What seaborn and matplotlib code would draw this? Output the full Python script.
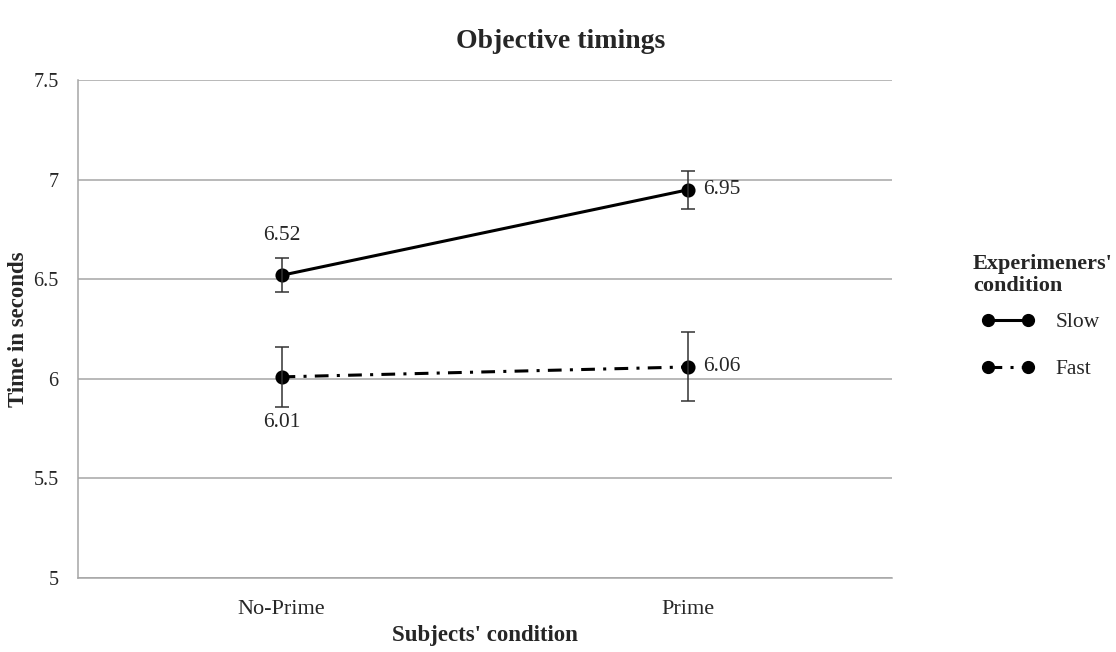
import matplotlib
matplotlib.use("Agg")
import matplotlib.pyplot as plt
from matplotlib.lines import Line2D
import pandas as pd
import seaborn as sns

subjects = ["No-Prime", "Prime"]
slow_means = [6.52, 6.95]
fast_means = [6.01, 6.06]
slow_err = [0.085, 0.095]
fast_err = [0.15, 0.173]
groups = ["Slow", "Fast"]

df = pd.DataFrame({
    "subject": subjects * 2,
    "time": slow_means + fast_means,
    "err": slow_err + fast_err,
    "group": [groups[0]] * 2 + [groups[1]] * 2,
})

sns.set_style("white")
plt.rcParams["font.family"] = ["Liberation Serif", "DejaVu Serif"]

dashdot = (0, (4.5, 2.7, 1, 2.7))
fig = plt.figure(figsize=(11.16, 6.52), dpi=100)
ax = fig.add_axes([0.07, 0.1135, 0.729, 0.7635])

sns.pointplot(data=df, x="subject", y="time", hue="group", order=subjects,
              hue_order=groups, palette=["black", "black"], markers="o",
              linestyles=["-", dashdot], errorbar=None, ax=ax, legend=False,
              linewidth=2.2, markersize=8.5)

for g in groups:
    sub = df[df["group"] == g]
    ax.errorbar(range(len(subjects)), sub["time"], yerr=sub["err"], fmt="none",
                ecolor="#333333", elinewidth=1.1, capsize=5, capthick=1.1, zorder=5)

ax.set_xlim(-0.5, 1.5)
ax.set_ylim(5, 7.5)
ax.set_yticks([5, 5.5, 6, 6.5, 7, 7.5])
ax.set_yticklabels(["5", "5.5", "6", "6.5", "7", "7.5"])
ax.yaxis.grid(True, color="#a6a6a6", linewidth=1.1)
ax.set_axisbelow(True)
ax.set_xticks([-0.5, 0.5, 1.5], minor=True)
ax.tick_params(axis="x", which="major", length=0, pad=16, labelsize=16)
ax.tick_params(axis="x", which="minor", length=5, color="#a6a6a6", width=1.1, direction="out")
ax.tick_params(axis="y", length=5, color="#a6a6a6", width=1.1, direction="out", labelsize=14.5, pad=9)
for side in ["top", "right"]:
    ax.spines[side].set_visible(False)
for side in ["left", "bottom"]:
    ax.spines[side].set_color("#a6a6a6")
    ax.spines[side].set_linewidth(1.1)

ax.set_xlabel("Subjects' condition", fontsize=16.5, fontweight="bold", labelpad=4)
ax.set_ylabel("Time in seconds", fontsize=16.5, fontweight="bold", labelpad=3)

ax.annotate(f"{slow_means[0]:.2f}", (0, slow_means[0]), xytext=(0, 22),
            textcoords="offset points", ha="center", va="bottom", fontsize=15.5)
ax.annotate(f"{fast_means[0]:.2f}", (0, fast_means[0]), xytext=(0, -26),
            textcoords="offset points", ha="center", va="top", fontsize=15.5)
ax.annotate(f"{slow_means[1]:.2f}", (1, slow_means[1]), xytext=(11, 0),
            textcoords="offset points", ha="left", va="center", fontsize=15.5)
ax.annotate(f"{fast_means[1]:.2f}", (1, fast_means[1]), xytext=(11, 0),
            textcoords="offset points", ha="left", va="center", fontsize=15.5)

fig.text(0.502, 0.937, "Objective timings", ha="center", va="center",
         fontsize=20, fontweight="bold")

# legend title drawn separately so the entries can sit indented under it
fig.text(973 / 1116, 1 - 254 / 652, "Experimeners'\ncondition", ha="left", va="top",
         fontsize=16, fontweight="bold", linespacing=1.15)

handles = [Line2D([], [], color="black", marker="o", markersize=8.5, linewidth=2.2, linestyle="-"),
           Line2D([], [], color="black", marker="o", markersize=8.5, linewidth=2.2, linestyle=dashdot)]
leg = fig.legend(handles, groups, numpoints=2, loc="upper left",
                 bbox_to_anchor=(982 / 1116, 1 - 312 / 652), frameon=False,
                 fontsize=15.5, handlelength=2.45, labelspacing=1.25, handletextpad=0.95,
                 borderaxespad=0, borderpad=0)

fig.savefig("out.png", dpi=100)
